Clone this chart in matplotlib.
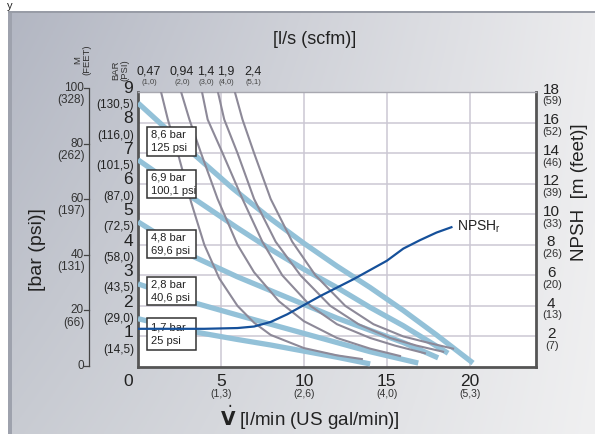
import numpy as np
import matplotlib
matplotlib.use('Agg')
import matplotlib.pyplot as plt
from matplotlib.patches import Rectangle
from matplotlib.transforms import blended_transform_factory

plt.rcParams['font.family'] = ['Liberation Sans', 'DejaVu Sans']

# pressure lines (supply air pressure), flow l/min vs head bar
l86_x = [0, 1.8, 3.5, 5.7, 8, 10, 12, 14, 16, 18, 20.2]
l86_y = [8.64, 7.75, 6.9, 5.85, 4.85, 4.05, 3.3, 2.6, 1.85, 1.05, 0.13]
l69_x = [0, 3.4, 6, 8, 10, 12, 14, 16, 18.7]
l69_y = [6.78, 5.5, 4.55, 3.85, 3.2, 2.6, 1.95, 1.35, 0.45]
l48_x = [0, 3.4, 6, 8, 10, 12, 14, 16, 18.1]
l48_y = [4.75, 3.6, 2.95, 2.5, 2.05, 1.6, 1.2, 0.8, 0.3]
l28_x = [0, 3.4, 6, 8, 10, 12, 14, 16.9]
l28_y = [2.72, 2.1, 1.7, 1.4, 1.1, 0.8, 0.5, 0.13]
l17_x = [0, 3.4, 6, 8, 10, 12, 14]
l17_y = [1.58, 1.15, 0.9, 0.72, 0.52, 0.32, 0.1]
press_lines = [(l86_x, l86_y), (l69_x, l69_y), (l48_x, l48_y), (l28_x, l28_y), (l17_x, l17_y)]
press_labels = ['8,6 bar\n125 psi', '6,9 bar\n100,1 psi', '4,8 bar\n69,6 psi',
                '2,8 bar\n40,6 psi', '1,7 bar\n25 psi']

# air consumption curves
g1_x = [1.39, 1.8, 2.4, 3.2, 4.0, 4.9, 6.0, 7.0, 8.0, 10.0, 12.0, 13.5]
g1_y = [9, 8.1, 7, 5.4, 4.0, 2.9, 2.0, 1.45, 1.05, 0.62, 0.38, 0.26]
g2_x = [2.6, 3.1, 3.8, 4.8, 6.0, 7.0, 8.5, 10, 12, 14, 15.8]
g2_y = [9, 8.1, 7, 5.5, 4.0, 3.1, 2.15, 1.5, 0.95, 0.6, 0.36]
g3_x = [3.86, 4.2, 5.1, 6.3, 7.5, 8.7, 10.4, 12, 14, 15.5, 17.3]
g3_y = [9, 8.1, 7, 5.5, 4.1, 3.0, 2.0, 1.4, 0.95, 0.7, 0.45]
g4_x = [4.82, 5.2, 6.0, 7.0, 8.3, 9.8, 11.6, 13.3, 15.2, 16.8, 18.4]
g4_y = [9, 8.1, 7, 5.5, 4.1, 3.0, 2.0, 1.4, 0.95, 0.7, 0.5]
g5_x = [5.84, 6.3, 7.0, 8.0, 9.3, 10.7, 12.5, 14.2, 16, 17.6, 19.0]
g5_y = [9, 8.1, 7, 5.5, 4.1, 3.0, 2.0, 1.4, 1.0, 0.78, 0.6]
air_curves = [(g1_x, g1_y), (g2_x, g2_y), (g3_x, g3_y), (g4_x, g4_y), (g5_x, g5_y)]
air_top = ['0,47', '0,94', '1,4', '1,9', '2,4']
air_sub = ['(1,0)', '(2,0)', '(3,0)', '(4,0)', '(5,1)']

# NPSHr (m)
npsh_x = [0, 2, 4, 6, 7, 8, 9, 10, 11, 12, 13, 14, 15, 16, 17, 18, 18.9]
npsh_y = [2.5, 2.5, 2.5, 2.55, 2.65, 2.95, 3.45, 4.05, 4.65, 5.2, 5.75, 6.35, 6.95, 7.75, 8.3, 8.8, 9.15]

# axis labels
bar_ticks = [9, 8, 7, 6, 5, 4, 3, 2, 1]
psi_ticks = ['(130,5)', '(116,0)', '(101,5)', '(87,0)', '(72,5)', '(58,0)', '(43,5)', '(29,0)', '(14,5)']
flow_ticks = [5, 10, 15, 20]
gpm_ticks = ['(1,3)', '(2,6)', '(4,0)', '(5,3)']
npsh_ticks = [18, 16, 14, 12, 10, 8, 6, 4, 2]
feet_ticks = ['(59)', '(52)', '(46)', '(39)', '(33)', '(26)', '(20)', '(13)', '(7)']
m_ticks = [100, 80, 60, 40, 20, 0]
mfeet_ticks = ['(328)', '(262)', '(197)', '(131)', '(66)', '']

W, H = 595, 434
fig = plt.figure(figsize=(W / 100, H / 100), dpi=100)

def fx(px):
    return px / W

def fy(py):
    return 1 - py / H

# gray gradient panel
bg = fig.add_axes([fx(8), 0, 1 - fx(8), fy(12)])
bg.set_axis_off()
gx = np.linspace(0, 1, 300)[None, :, None]
gy = np.linspace(0, 1, 200)[:, None, None]
tl = np.array([178, 182, 194]) / 255
tr = np.array([236, 236, 238]) / 255
bl = np.array([200, 203, 210]) / 255
br = np.array([240, 240, 241]) / 255
grad = tl * (1 - gx) * (1 - gy) + tr * gx * (1 - gy) + bl * (1 - gx) * gy + br * gx * gy
bg.imshow(grad, aspect='auto', extent=[0, 1, 0, 1])
fig.patches.append(Rectangle((fx(8), 0), fx(4), fy(12), transform=fig.transFigure,
                             facecolor='#9ea2ad', edgecolor='none', zorder=1))
fig.patches.append(Rectangle((fx(8), fy(13)), 1, 2 / H, transform=fig.transFigure,
                             facecolor='#989ca6', edgecolor='none', zorder=1))

# main plot
ax = fig.add_axes([fx(138), fy(367), fx(398), 275 / H])
ax.set_facecolor('white')
ax.set_xlim(0, 24)
ax.set_ylim(0, 9)
ax.set_xticks(flow_ticks)
ax.set_yticks(range(1, 9))
ax.grid(color='#cbc7d3', lw=1.1)
ax.tick_params(length=0, labelleft=False, labelbottom=False)
for s in ['left', 'bottom', 'right']:
    ax.spines[s].set_color('#555555')
    ax.spines[s].set_linewidth(2)
ax.spines['top'].set_color('#a8a8b0')
ax.spines['top'].set_linewidth(1)

for xs, ys in press_lines:
    ax.plot(xs, ys, color='#93c1d8', lw=3.8, solid_capstyle='butt', zorder=3)
for xs, ys in air_curves:
    ax.plot(xs, ys, color='#8d8998', lw=1.5, zorder=4)

ax2 = ax.twinx()
ax2.set_ylim(0, 18)
ax2.set_yticks([])
for s in ax2.spines.values():
    s.set_visible(False)
ax2.plot(npsh_x, npsh_y, color='#15509a', lw=1.6, zorder=5)
ax2.text(npsh_x[-1] + 0.35, npsh_y[-1], r'NPSH$_\mathregular{r}$', fontsize=10,
         va='center', ha='left', color='#222222')

# label boxes
box_y = [(6.91, 7.86), (5.53, 6.45), (3.57, 4.48), (2.03, 2.95), (0.56, 1.6)]
for (y0, y1), lab in zip(box_y, press_labels):
    ax.add_patch(Rectangle((0.55, y0), 2.95, y1 - y0, facecolor='white',
                           edgecolor='#333333', lw=1.1, zorder=6))
    ax.text(0.8, (y0 + y1) / 2, lab, fontsize=8, va='center', ha='left',
            linespacing=1.4, color='#222222', zorder=7)

# left bar / psi labels
tl_tr = blended_transform_factory(fig.transFigure, ax.transData)
for b, p in zip(bar_ticks, psi_ticks):
    ax.text(fx(133), b + 0.12, str(b), transform=tl_tr, ha='right', va='center',
            fontsize=12.5, color='#222222')
    ax.text(fx(134), b - 0.43, p, transform=tl_tr, ha='right', va='center',
            fontsize=8.5, color='#222222')
fig.text(fx(128), fy(381), '0', ha='center', va='center', fontsize=12.5, color='#222222')

# M (feet) scale
ax.plot([fx(89), fx(89)], [0.03, 100 * 0.091], transform=tl_tr, color='#444444',
        lw=0.9, clip_on=False)
for m, f in zip(m_ticks, mfeet_ticks):
    yb = m * 0.091 + 0.03
    ax.plot([fx(84), fx(89)], [yb, yb], transform=tl_tr, color='#444444', lw=0.9,
            clip_on=False)
    ax.text(fx(84), yb, str(m), transform=tl_tr, ha='right', va='center',
            fontsize=8.5, color='#333333')
    if f:
        ax.text(fx(85), yb - 0.4, f, transform=tl_tr, ha='right', va='center',
                fontsize=8.5, color='#333333')
fig.text(fx(82), fy(75), 'M\n(FEET)', rotation=90, ha='center', va='bottom',
         fontsize=6.8, color='#333333', multialignment='center', linespacing=1.0)
fig.text(fx(120), fy(81), 'BAR\n(PSI)', rotation=90, ha='center', va='bottom',
         fontsize=6.8, color='#333333', multialignment='center', linespacing=1.0)

# x labels
bx_tr = blended_transform_factory(ax.transData, fig.transFigure)
for v, g in zip(flow_ticks, gpm_ticks):
    ax.text(v, fy(382), str(v), transform=bx_tr, ha='center', va='center',
            fontsize=12.5, color='#222222')
    ax.text(v, fy(394), g, transform=bx_tr, ha='center', va='center',
            fontsize=7.5, color='#333333')

# top air labels
top_px = [149, 182, 206, 226, 253]
for px, t, s in zip(top_px, air_top, air_sub):
    fig.text(fx(px), fy(72), t, ha='center', va='center', fontsize=9, color='#222222')
    fig.text(fx(px), fy(83), s, ha='center', va='center', fontsize=5.5, color='#444444')

# right NPSH labels
tr_tr = blended_transform_factory(fig.transFigure, ax2.transData)
for v, f in zip(npsh_ticks, feet_ticks):
    ax2.text(fx(551), v + 0.15, str(v), transform=tr_tr, ha='center', va='center',
             fontsize=11, color='#222222')
    ax2.text(fx(552), v - 0.62, f, transform=tr_tr, ha='center', va='center',
             fontsize=8, color='#333333')

# titles
fig.text(fx(315), fy(40), '[l/s (scfm)]', ha='center', va='center', fontsize=13,
         color='#222222')
fig.text(fx(38), fy(250), '[bar (psi)]', rotation=90, ha='center', va='center',
         fontsize=14, color='#222222')
fig.text(fx(579), fy(192), 'NPSH  [m (feet)]', rotation=90, ha='center', va='center',
         fontsize=13.5, color='#222222')
fig.text(fx(310), fy(418), r'$\dot{\mathbf{V}}$ [l/min (US gal/min)]', ha='center',
         va='center', fontsize=13.5, color='#222222')
fig.text(fx(10), fy(1), 'y', ha='center', va='top', fontsize=8, color='#222222')

fig.savefig('out.png', dpi=100)
